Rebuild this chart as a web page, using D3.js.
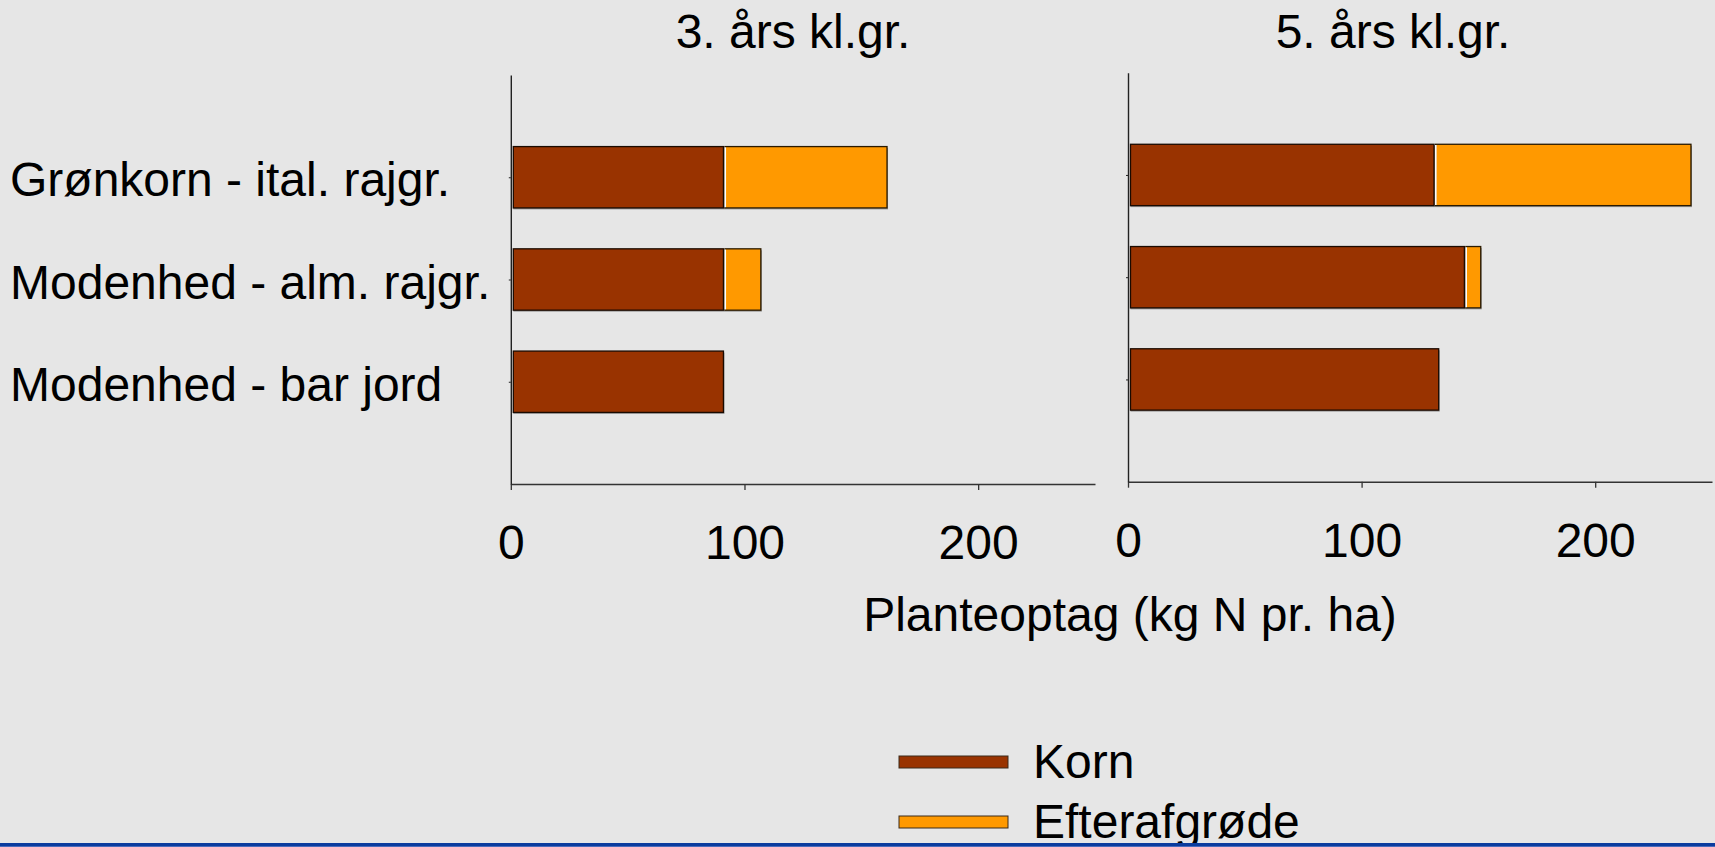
<!DOCTYPE html>
<html>
<head>
<meta charset="utf-8">
<script src="https://cdn.jsdelivr.net/npm/d3@7"></script>
<style>
    html, body { margin: 0; padding: 0; background: #e6e6e6; }
    #chart { width: 1715px; height: 847px; overflow: hidden; }
    text { font-family: "Liberation Sans", Arial, sans-serif; fill: #000; }
</style>
</head>
<body>
<div id="chart"></div>
<script>
// data
const categories = ["Grønkorn - ital. rajgr.", "Modenhed - alm. rajgr.", "Modenhed - bar jord"];
const panelTitles = ["3. års kl.gr.", "5. års kl.gr."];
const korn3 = [91, 91, 91];
const efter3 = [70, 16, 0];
const korn5 = [131, 144, 133];
const efter5 = [110, 7, 0];
const xTicks = [0, 100, 200];
const seriesNames = ["Korn", "Efterafgrøde"];
const seriesColors = ["#993300", "#ff9900"];
const xLabel = "Planteoptag (kg N pr. ha)";

const width = 1715;
const height = 847;

const svg = d3.select("#chart")
    .append("svg")
    .attr("width", width)
    .attr("height", height);

svg.append("rect")
    .attr("width", width)
    .attr("height", height)
    .attr("fill", "#e6e6e6");

// to paneler, samme kategorier
const panels = [
    { title: panelTitles[0], korn: korn3, efter: efter3, x0: 510.8, x1: 1095, y0: 75, y1: 484, titleX: 793 },
    { title: panelTitles[1], korn: korn5, efter: efter5, x0: 1128, x1: 1712, y0: 72.7, y1: 481.7, titleX: 1393 }
];

panels.forEach(function (p, pi) {
    const x = d3.scaleLinear()
        .domain([0, 250])
        .range([p.x0, p.x1]);

    const y = d3.scalePoint()
        .domain(categories)
        .range([p.y0, p.y1])
        .padding(1);

    const barH = y.step() * 0.6;
    const g = svg.append("g");

    // titel
    g.append("text")
        .attr("x", p.titleX)
        .attr("y", 47.7)
        .attr("text-anchor", "middle")
        .attr("font-size", "48px")
        .text(p.title);

    // x-akse
    g.append("g")
        .attr("transform", `translate(0,${p.y1})`)
        .call(d3.axisBottom(x).tickValues(xTicks).tickSize(6).tickSizeOuter(0).tickPadding(35))
        .call(a => a.selectAll(".domain").attr("stroke", "#333").attr("stroke-width", 1.5))
        .call(a => a.selectAll(".tick line").attr("stroke", "#333").attr("stroke-width", 1.3))
        .call(a => a.selectAll(".tick text")
            .attr("font-size", "48px")
            .attr("font-family", "Liberation Sans, Arial, sans-serif")
            .attr("fill", "#000"));

    // y-akse
    g.append("g")
        .attr("transform", `translate(${p.x0},0)`)
        .call(d3.axisLeft(y).tickSize(2).tickSizeOuter(0).tickFormat(""))
        .call(a => a.selectAll(".domain").attr("stroke", "#222").attr("stroke-width", 1.4))
        .call(a => a.selectAll(".tick line").attr("stroke", "#222"));

    // skygge under søjler
    g.selectAll(".shadow")
        .data(categories)
        .enter()
        .append("rect")
        .attr("x", x(0) + 2.5)
        .attr("y", d => y(d) - barH / 2 + 1.5)
        .attr("width", (d, i) => x(p.korn[i] + p.efter[i]) - x(0) - 1.5)
        .attr("height", barH)
        .attr("fill", "#9a9a9a");

    // korn
    g.selectAll(".korn")
        .data(categories)
        .enter()
        .append("rect")
        .attr("x", x(0) + 2.5)
        .attr("y", d => y(d) - barH / 2)
        .attr("width", (d, i) => x(p.korn[i]) - x(0) - 2.5)
        .attr("height", barH)
        .attr("fill", seriesColors[0])
        .attr("stroke", "#1a0a00")
        .attr("stroke-width", 1.3);

    // efterafgrøde
    categories.forEach(function (c, i) {
        if (p.efter[i] <= 0) return;
        g.append("rect")
            .attr("x", x(p.korn[i]) + 1.5)
            .attr("y", y(c) - barH / 2)
            .attr("width", x(p.korn[i] + p.efter[i]) - x(p.korn[i]) - 1.5)
            .attr("height", barH)
            .attr("fill", seriesColors[1])
            .attr("stroke", "#2a1a00")
            .attr("stroke-width", 1.3);
        g.append("line")
            .attr("x1", x(p.korn[i]) + 1.8)
            .attr("x2", x(p.korn[i]) + 1.8)
            .attr("y1", y(c) - barH / 2 + 0.7)
            .attr("y2", y(c) + barH / 2 - 0.7)
            .attr("stroke", "#ffffff")
            .attr("stroke-width", 1.6);
    });

    // kategorier kun til venstre
    if (pi == 0) {
        g.selectAll(".cat")
            .data(categories)
            .enter()
            .append("text")
            .attr("x", 10)
            .attr("y", d => y(d))
            .attr("dy", "0.4em")
            .attr("font-size", "48px")
            .text(d => d);
    }
});

// x-akse titel
svg.append("text")
    .attr("x", 1130)
    .attr("y", 631)
    .attr("text-anchor", "middle")
    .attr("font-size", "48px")
    .text(xLabel);

// legend
const legend = svg.append("g")
    .attr("transform", "translate(899,756)");

seriesNames.forEach(function (name, i) {
    legend.append("rect")
        .attr("x", 0)
        .attr("y", i * 60)
        .attr("width", 109)
        .attr("height", 12)
        .attr("fill", seriesColors[i])
        .attr("stroke", "#3a2a1a")
        .attr("stroke-width", 1);
    legend.append("text")
        .attr("x", 134)
        .attr("y", i * 60 + 22.3)
        .attr("font-size", "48px")
        .text(name);
});

// blå linje i bunden
svg.append("rect")
    .attr("x", 0)
    .attr("y", 843)
    .attr("width", width)
    .attr("height", 3)
    .attr("fill", "#0b3c9e");
svg.append("rect")
    .attr("x", 0)
    .attr("y", 846)
    .attr("width", width)
    .attr("height", 1)
    .attr("fill", "#4a6cbc");
</script>
</body>
</html>
